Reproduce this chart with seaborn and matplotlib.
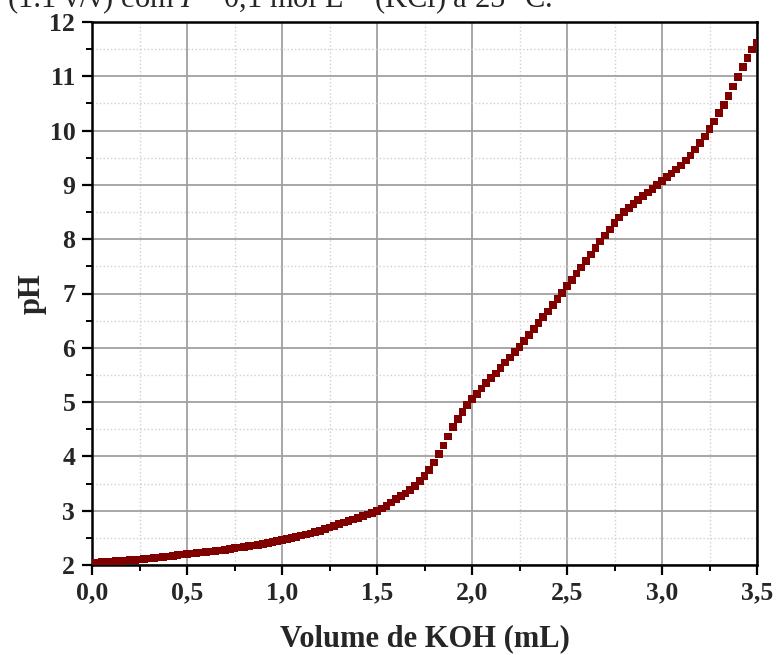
import numpy as np
import pandas as pd
import matplotlib
matplotlib.use("Agg")
import matplotlib.pyplot as plt
from matplotlib.ticker import MultipleLocator, FixedLocator
import seaborn as sns

# ---- data ----
volume_ml = [
    0.000, 0.025, 0.050, 0.075, 0.100, 0.125, 0.150, 0.175, 0.200, 0.225,
    0.250, 0.275, 0.300, 0.325, 0.350, 0.375, 0.400, 0.425, 0.450, 0.475,
    0.500, 0.525, 0.550, 0.575, 0.600, 0.625, 0.650, 0.675, 0.700, 0.725,
    0.750, 0.775, 0.800, 0.825, 0.850, 0.875, 0.900, 0.925, 0.950, 0.975,
    1.000, 1.025, 1.050, 1.075, 1.100, 1.125, 1.150, 1.175, 1.200, 1.225,
    1.250, 1.275, 1.300, 1.325, 1.350, 1.375, 1.400, 1.425, 1.450, 1.475,
    1.500, 1.525, 1.550, 1.575, 1.600, 1.625, 1.650, 1.675, 1.700, 1.725,
    1.750, 1.775, 1.800, 1.825, 1.850, 1.875, 1.900, 1.925, 1.950, 1.975,
    2.000, 2.025, 2.050, 2.075, 2.100, 2.125, 2.150, 2.175, 2.200, 2.225,
    2.250, 2.275, 2.300, 2.325, 2.350, 2.375, 2.400, 2.425, 2.450, 2.475,
    2.500, 2.525, 2.550, 2.575, 2.600, 2.625, 2.650, 2.675, 2.700, 2.725,
    2.750, 2.775, 2.800, 2.825, 2.850, 2.875, 2.900, 2.925, 2.950, 2.975,
    3.000, 3.025, 3.050, 3.075, 3.100, 3.125, 3.150, 3.175, 3.200, 3.225,
    3.250, 3.275, 3.300, 3.325, 3.350, 3.375, 3.400, 3.425, 3.450, 3.475,
    3.500,
]
ph_values = [
    2.04, 2.045, 2.05, 2.055, 2.06, 2.07, 2.075, 2.08, 2.09, 2.095,
    2.10, 2.11, 2.12, 2.13, 2.14, 2.15, 2.16, 2.17, 2.18, 2.19,
    2.20, 2.21, 2.22, 2.23, 2.24, 2.25, 2.26, 2.27, 2.28, 2.295,
    2.31, 2.32, 2.33, 2.35, 2.36, 2.37, 2.39, 2.40, 2.42, 2.44,
    2.46, 2.48, 2.50, 2.52, 2.54, 2.56, 2.58, 2.61, 2.63, 2.66,
    2.69, 2.72, 2.75, 2.78, 2.81, 2.84, 2.87, 2.90, 2.93, 2.96,
    2.99, 3.04, 3.09, 3.15, 3.22, 3.27, 3.32, 3.38, 3.45, 3.55,
    3.64, 3.75, 3.89, 4.04, 4.20, 4.37, 4.54, 4.69, 4.82, 4.95,
    5.06, 5.15, 5.25, 5.35, 5.44, 5.53, 5.63, 5.73, 5.82, 5.92,
    6.02, 6.13, 6.24, 6.35, 6.46, 6.57, 6.67, 6.79, 6.90, 7.01,
    7.14, 7.25, 7.37, 7.48, 7.60, 7.72, 7.84, 7.96, 8.07, 8.18,
    8.30, 8.40, 8.50, 8.57, 8.65, 8.72, 8.79, 8.86, 8.93, 9.00,
    9.07, 9.14, 9.21, 9.28, 9.36, 9.45, 9.54, 9.65, 9.77, 9.89,
    10.03, 10.17, 10.32, 10.47, 10.64, 10.81, 10.99, 11.17, 11.34, 11.49,
    11.62,
]
x_ticks = [0.0, 0.5, 1.0, 1.5, 2.0, 2.5, 3.0, 3.5]
x_tick_labels = ["0,0", "0,5", "1,0", "1,5", "2,0", "2,5", "3,0", "3,5"]
y_ticks = [2, 3, 4, 5, 6, 7, 8, 9, 10, 11, 12]
x_label = "Volume de KOH (mL)"
y_label = "pH"
caption = "(1:1 v/v) com $I$ = 0,1 mol L$^{-1}$ (KCl) a 25 °C."

df = pd.DataFrame({"volume": volume_ml, "pH": ph_values})

sns.set_theme(style="white")
plt.rcParams["font.family"] = ["Liberation Serif", "DejaVu Serif"]
plt.rcParams["mathtext.fontset"] = "custom"
plt.rcParams["mathtext.it"] = "Liberation Serif:italic"
plt.rcParams["mathtext.rm"] = "Liberation Serif"

fig = plt.figure(figsize=(7.77, 6.55), dpi=100)
ax = fig.add_axes([92 / 777, 1 - 565 / 655, (757 - 92) / 777, (565 - 22) / 655])

sns.scatterplot(data=df, x="volume", y="pH", marker="s", s=30, color="#800000",
                edgecolor="none", linewidth=0, ax=ax, zorder=3, clip_on=True)

ax.set_xlim(0, 3.5)
ax.set_ylim(2, 12)
ax.xaxis.set_major_locator(FixedLocator(x_ticks))
ax.set_xticklabels(x_tick_labels)
ax.yaxis.set_major_locator(FixedLocator(y_ticks))
ax.set_yticklabels([str(v) for v in y_ticks])
ax.xaxis.set_minor_locator(MultipleLocator(0.25))
ax.yaxis.set_minor_locator(MultipleLocator(0.5))

ax.grid(which="major", color="#a0a0a0", linewidth=1.3, linestyle="-", zorder=0)
ax.grid(which="minor", color="#d0d0d0", linewidth=1.0, linestyle=":", zorder=0)
ax.set_axisbelow(True)

for sp in ax.spines.values():
    sp.set_visible(True)
    sp.set_color("black")
    sp.set_linewidth(1.8)

ax.tick_params(which="major", direction="out", length=7, width=1.6, color="black",
               labelsize=18.5, bottom=True, left=True, top=False, right=False, pad=5)
ax.tick_params(which="minor", direction="out", length=4, width=1.4, color="black",
               bottom=True, left=True, top=False, right=False)
for lbl in ax.get_xticklabels() + ax.get_yticklabels():
    lbl.set_fontweight("bold")

ax.set_xlabel(x_label, fontsize=22, fontweight="bold", labelpad=14)
ax.set_ylabel(y_label, fontsize=22, fontweight="bold", labelpad=2)

fig.text(7 / 777, 1 - 7 / 655, caption, fontsize=22, ha="left", va="baseline")

fig.savefig("out.png", dpi=100)
